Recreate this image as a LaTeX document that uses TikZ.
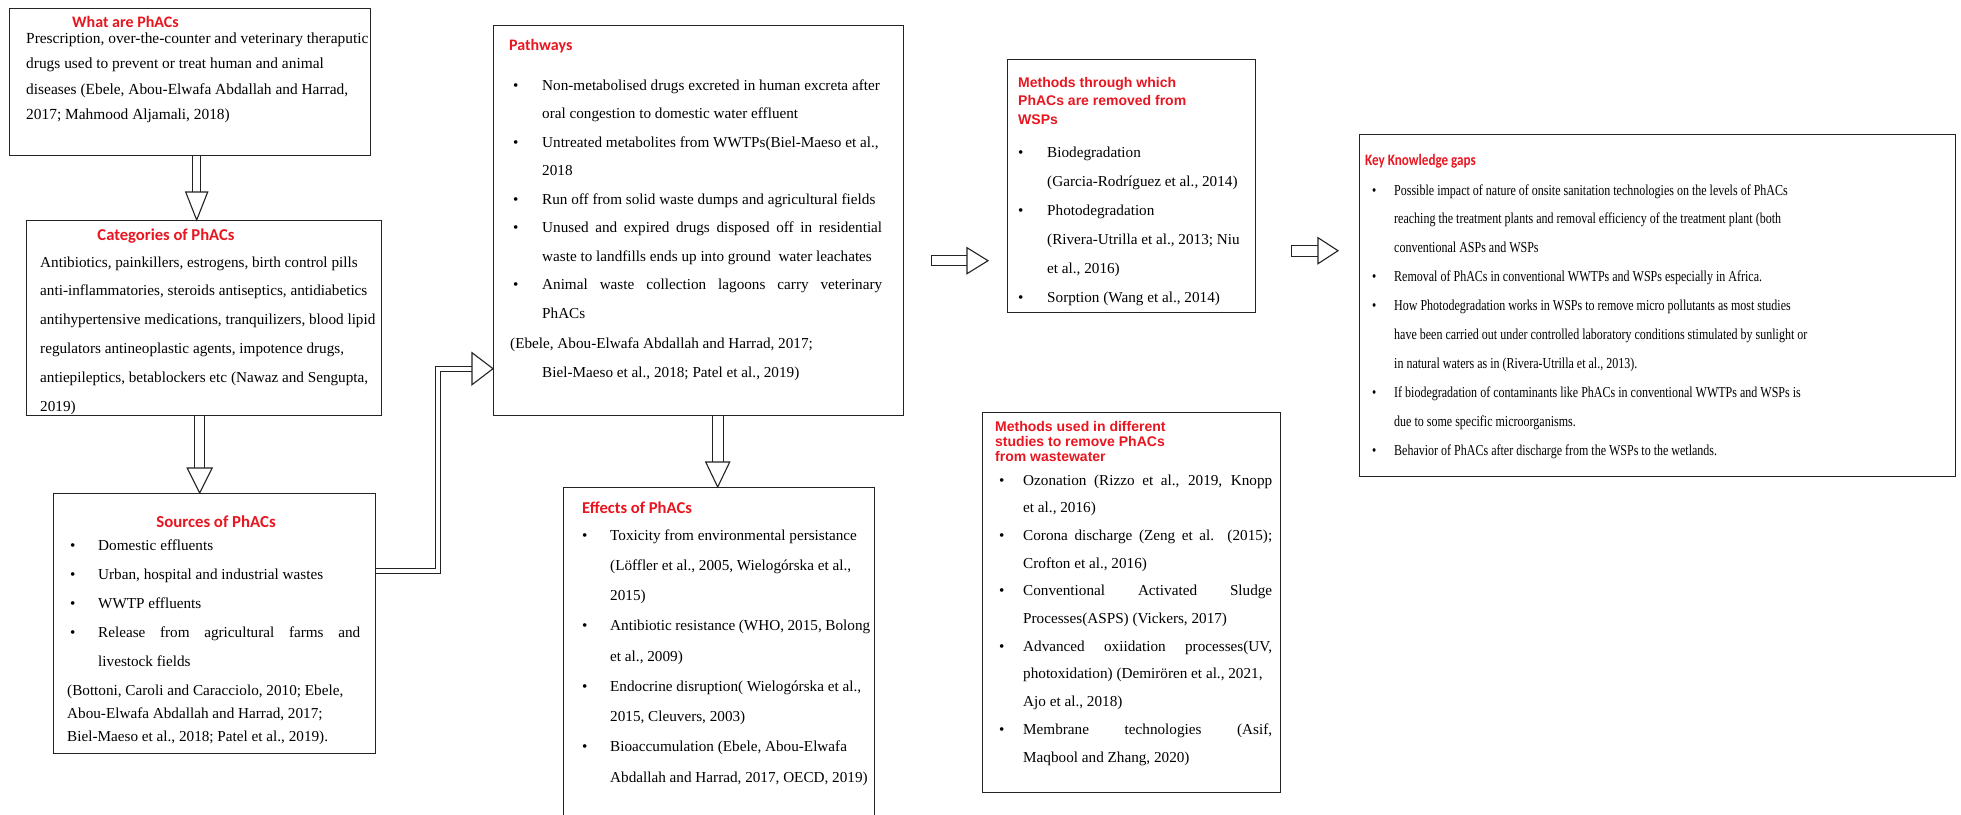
\documentclass[tikz,border=0pt]{standalone}
\usepackage{fontspec}
\setmainfont{Liberation Serif}
\newfontfamily\headcal{Carlito}
\newfontfamily\headarial{Liberation Sans}
\newfontfamily\condserif[FakeStretch=0.79]{Liberation Serif}
\newfontfamily\condcal[FakeStretch=0.82]{Carlito}
\usetikzlibrary{calc}
\definecolor{headred}{RGB}{232,22,32}
\definecolor{boxline}{RGB}{35,35,35}
\newlength\bulind
\newcommand\bitem[1]{\makebox[\bulind][l]{\textbullet}#1}
\newcommand\citem[1]{\hspace*{\bulind}#1}
\newcommand\jline[2]{\makebox[#1][s]{#2}}
% vertical block arrow: start, tip, shaft width, head width, head length
\newcommand\vblock[5]{%
  \draw[blk] ($(#1)+(-#3/2,0)$) -- ($(#2)+(-#3/2,-#5)$)
             ($(#1)+(#3/2,0)$) -- ($(#2)+(#3/2,-#5)$);
  \draw[blk,fill=white] ($(#2)+(-#4/2,-#5)$) -- (#2) -- ($(#2)+(#4/2,-#5)$) -- cycle;}
% horizontal block arrow (to the right)
\newcommand\hblock[5]{%
  \draw[blk] ($(#2)+(-#5,-#3/2)$) -- ($(#1)+(0,-#3/2)$) -- ($(#1)+(0,#3/2)$) -- ($(#2)+(-#5,#3/2)$);
  \draw[blk,fill=white] ($(#2)+(-#5,-#4/2)$) -- (#2) -- ($(#2)+(-#5,#4/2)$) -- cycle;}
\begin{document}
\begin{tikzpicture}[x=1pt,y=-1pt,
  box/.style={draw=boxline,line width=1.4pt,inner sep=0pt,anchor=north west},
  txt/.style={inner sep=0pt,anchor=base west},
  head/.style={inner sep=0pt,anchor=base west,text=headred,font=\headcal\bfseries\fontsize{16}{19}\selectfont},
  headm/.style={inner sep=0pt,anchor=base west,text=headred},
  blk/.style={draw=boxline,line width=1.1pt,line join=miter}]
\fill[white] (0,0) rectangle (1961,814);
\useasboundingbox (0,0) rectangle (1961,814);

% ---------- boxes ----------
\node[box,minimum width=361pt,minimum height=147pt] (what) at (9,8) {};
\node[box,minimum width=355pt,minimum height=195pt] (cat) at (26,220) {};
\node[box,minimum width=322pt,minimum height=260pt] (src) at (53,493) {};
\node[box,minimum width=410pt,minimum height=390pt] (path) at (493,25) {};
\node[box,minimum width=311pt,minimum height=345pt] (eff) at (563,487) {};
\node[box,minimum width=248pt,minimum height=253pt] (meth) at (1007,59) {};
\node[box,minimum width=298pt,minimum height=380pt] (used) at (982,412) {};
\node[box,minimum width=596pt,minimum height=342pt] (gaps) at (1359,134) {};

% ---------- What are PhACs ----------
\node[head] (whatH) at (72,27) {What are PhACs};
\node[txt] (whatT) at (26,43) {\parbox[t]{600pt}{\fontsize{15.4}{25.5}\selectfont
Prescription, over-the-counter and veterinary theraputic\\
drugs used to prevent or treat human and animal\\
diseases (Ebele, Abou-Elwafa Abdallah and Harrad,\\
2017; Mahmood Aljamali, 2018)}};

% ---------- Categories ----------
\node[head,anchor=base,font=\headcal\bfseries\fontsize{16.6}{19}\selectfont] (catH) at (166,240) {Categories of PhACs};
\node[txt] (catT) at (40,267) {\parbox[t]{600pt}{\fontsize{15.2}{28.8}\selectfont
Antibiotics, painkillers, estrogens, birth control pills\\
anti-inflammatories, steroids antiseptics, antidiabetics\\
antihypertensive medications, tranquilizers, blood lipid\\
regulators antineoplastic agents, impotence drugs,\\
antiepileptics, betablockers etc (Nawaz and Sengupta,\\
2019)}};

% ---------- Sources ----------
\node[head,anchor=base,font=\headcal\bfseries\fontsize{16.8}{19}\selectfont] (srcH) at (216,527) {Sources of PhACs};
\node[txt] (srcT) at (70,550) {\parbox[t]{600pt}{\fontsize{15.2}{29}\selectfont\setlength\bulind{28pt}%
\bitem{Domestic effluents}\\
\bitem{Urban, hospital and industrial wastes}\\
\bitem{WWTP effluents}\\
\bitem{\jline{262pt}{Release from agricultural farms and}}\\
\citem{livestock fields}}};
\node[txt] (srcC) at (67,695) {\parbox[t]{600pt}{\fontsize{15.2}{23}\selectfont
(Bottoni, Caroli and Caracciolo, 2010; Ebele,\\
Abou-Elwafa Abdallah and Harrad, 2017;\\
Biel-Maeso et al., 2018; Patel et al., 2019).}};

% ---------- Pathways ----------
\node[head] (pathH) at (509,50) {Pathways};
\node[txt] (pathT) at (513,90) {\parbox[t]{600pt}{\fontsize{15.2}{28.5}\selectfont\setlength\bulind{29pt}%
\bitem{Non-metabolised drugs excreted in human excreta after}\\
\citem{oral congestion to domestic water effluent}\\
\bitem{Untreated metabolites from WWTPs(Biel-Maeso et al.,}\\
\citem{2018}\\
\bitem{Run off from solid waste dumps and agricultural fields}\\
\bitem{\jline{340pt}{Unused and expired drugs disposed off in residential}}\\
\citem{waste to landfills ends up into ground\ \ water leachates}\\
\bitem{\jline{340pt}{Animal waste collection lagoons carry veterinary}}\\
\citem{PhACs}}};
\node[txt] (pathC) at (510,348) {\parbox[t]{600pt}{\fontsize{15.2}{29}\selectfont
(Ebele, Abou-Elwafa Abdallah and Harrad, 2017;\\
\hspace*{32pt}Biel-Maeso et al., 2018; Patel et al., 2019)}};

% ---------- Effects ----------
\node[head,font=\headcal\bfseries\fontsize{16.6}{19}\selectfont] (effH) at (582,513) {Effects of PhACs};
\node[txt] (effT) at (582,540) {\parbox[t]{600pt}{\fontsize{15.2}{30.25}\selectfont\setlength\bulind{28pt}%
\bitem{Toxicity from environmental persistance}\\
\citem{(Löffler et al., 2005, Wielogórska et al.,}\\
\citem{2015)}\\
\bitem{\jline{260pt}{Antibiotic resistance (WHO, 2015, Bolong}}\\
\citem{et al., 2009)}\\
\bitem{Endocrine disruption( Wielogórska et al.,}\\
\citem{2015, Cleuvers, 2003)}\\
\bitem{Bioaccumulation (Ebele, Abou-Elwafa}\\
\citem{Abdallah and Harrad, 2017, OECD, 2019)}}};

% ---------- Methods through which ----------
\node[headm] (methH) at (1018,87) {\parbox[t]{300pt}{\headarial\bfseries\fontsize{14}{18.5}\selectfont
Methods through which\\ PhACs are removed from\\ WSPs}};
\node[txt] (methT) at (1018,157) {\parbox[t]{600pt}{\fontsize{15.2}{29}\selectfont\setlength\bulind{29pt}%
\bitem{Biodegradation}\\
\citem{(Garcia-Rodríguez et al., 2014)}\\
\bitem{Photodegradation}\\
\citem{(Rivera-Utrilla et al., 2013; Niu}\\
\citem{et al., 2016)}\\
\bitem{Sorption (Wang et al., 2014)}}};

% ---------- Methods used ----------
\node[headm] (usedH) at (995,431) {\parbox[t]{300pt}{\headarial\bfseries\fontsize{14}{15}\selectfont
Methods used in different\\ studies to remove PhACs\\ from wastewater}};
\node[txt] (usedT) at (999,485) {\parbox[t]{600pt}{\fontsize{15.2}{27.7}\selectfont\setlength\bulind{24pt}%
\bitem{\jline{249pt}{Ozonation (Rizzo et al., 2019, Knopp}}\\
\citem{et al., 2016)}\\
\bitem{\jline{249pt}{Corona discharge (Zeng et al. (2015);}}\\
\citem{Crofton et al., 2016)}\\
\bitem{\jline{249pt}{Conventional Activated Sludge}}\\
\citem{Processes(ASPS) (Vickers, 2017)}\\
\bitem{\jline{249pt}{Advanced oxiidation processes(UV,}}\\
\citem{photoxidation) (Demirören et al., 2021,}\\
\citem{Ajo et al., 2018)}\\
\bitem{\jline{249pt}{Membrane technologies (Asif,}}\\
\citem{Maqbool and Zhang, 2020)}}};

% ---------- Key knowledge gaps ----------
\node[head,font=\condcal\bfseries\fontsize{16}{19}\selectfont] (gapsH) at (1365,165) {Key Knowledge gaps};
\node[txt] (gapsT) at (1372,195) {\parbox[t]{600pt}{\condserif\fontsize{15.2}{28.9}\selectfont\setlength\bulind{22pt}%
\bitem{Possible impact of nature of onsite sanitation technologies on the levels of PhACs}\\
\citem{reaching the treatment plants and removal efficiency of the treatment plant (both}\\
\citem{conventional ASPs and WSPs}\\
\bitem{Removal of PhACs in conventional WWTPs and WSPs especially in Africa.}\\
\bitem{How Photodegradation works in WSPs to remove micro pollutants as most studies}\\
\citem{have been carried out under controlled laboratory conditions stimulated by sunlight or}\\
\citem{in natural waters as in (Rivera-Utrilla et al., 2013).}\\
\bitem{If biodegradation of contaminants like PhACs in conventional WWTPs and WSPs is}\\
\citem{due to some specific microorganisms.}\\
\bitem{Behavior of PhACs after discharge from the WSPs to the wetlands.}}};

% ---------- connectors ----------
\vblock{$(what.south)+(6.5,0)$}{$(cat.north)+(-7.5,0)$}{8}{22}{28}
\vblock{$(cat.south)+(-4.5,0)$}{$(src.north)+(-15,0)$}{10}{25}{25}
\vblock{$(path.south)+(19,0)$}{$(eff.north)+(-1.5,0)$}{11}{24}{25}
\coordinate (a4s) at ($(path.east)+(27,40)$);
\coordinate (a4t) at ($(meth.west)+(-19,74.5)$);
\hblock{a4s}{a4t}{10}{26}{21}
\coordinate (a5s) at ($(meth.east)+(35,64.5)$);
\coordinate (a5t) at ($(gaps.west)+(-21,-55)$);
\hblock{a5s}{a5t}{11}{26}{20}
\draw[blk,line width=1.1pt,double=white,double distance=4pt]
  ($(src.east)+(0,-53)$) -| ($(path.west)+(-55,148)$) -- ($(path.west)+(-21,148)$);
\draw[blk,fill=white] ($(path.west)+(-21,132)$) -- ($(path.west)+(0,148)$) -- ($(path.west)+(-21,164)$) -- cycle;
\end{tikzpicture}
\end{document}
